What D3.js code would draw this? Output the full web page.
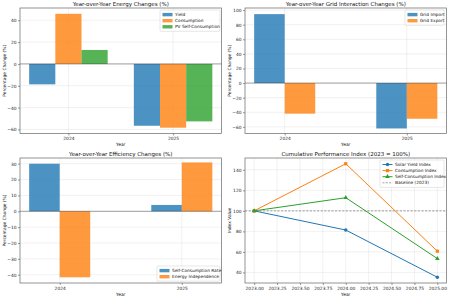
<!DOCTYPE html>
<html>
<head>
<meta charset="utf-8">
<script src="https://cdn.jsdelivr.net/npm/d3@7"></script>
<style>
  body { margin: 0; background: #fff; }
  svg { font-family: "DejaVu Sans", sans-serif; display: block; }
  .tick text { fill: #222; }
</style>
</head>
<body>
<div id="chart"></div>
<script>
// categories
const years = ["2024", "2025"];
const indexYears = [2023, 2024, 2025];

// energy changes (%)
const yieldChange = [-18.7, -56.6];
const consumptionChange = [45.9, -58.4];
const pvSelfChange = [12.8, -52.6];

// grid changes (%)
const gridImportChange = [94.5, -62.2];
const gridExportChange = [-41.9, -48.9];

// efficiency changes (%)
const selfRateChange = [30.0, 4.0];
const independenceChange = [-41.6, 30.8];

// cumulative index
const solarIndex = [100, 81.3, 35.3];
const consumptionIndex = [100, 145.9, 60.7];
const selfConsIndex = [100, 112.8, 53.5];

const yTicks1 = [-60, -40, -20, 0, 20, 40];
const yTicks2 = [-60, -40, -20, 0, 20, 40, 60, 80, 100];
const yTicks3 = [-40, -30, -20, -10, 0, 10, 20, 30];
const yTicks4 = [40, 60, 80, 100, 120, 140];
const xTicks4 = [2023, 2023.25, 2023.5, 2023.75, 2024, 2024.25, 2024.5, 2024.75, 2025];

const blue = "#1f77b4", orange = "#ff7f0e", green = "#2ca02c";

const W = 450, H = 298;
const svg = d3.select("#chart").append("svg").attr("width", W).attr("height", H);

const fmtTick = (d) => (d < 0 ? "\u2212" + Math.abs(d) : "" + d);

function makePanel(x0, y0, w, h, xDomain, yDomain, title, ylabel) {
  const g = svg.append("g").attr("transform", `translate(${x0},${y0})`);
  const x = d3.scaleLinear().domain(xDomain).range([0, w]);
  const y = d3.scaleLinear().domain(yDomain).range([h, 0]);
  g.append("text")
    .attr("x", w / 2).attr("y", -2.5)
    .attr("text-anchor", "middle")
    .attr("font-size", 5.5).attr("fill", "#111")
    .text(title);
  g.append("text")
    .attr("transform", `translate(${-14.5},${h / 2}) rotate(-90)`)
    .attr("text-anchor", "middle")
    .attr("font-size", 4.4).attr("fill", "#111")
    .text(ylabel);
  g.append("text")
    .attr("x", w / 2).attr("y", h + 12.5)
    .attr("text-anchor", "middle")
    .attr("font-size", 4.4).attr("fill", "#111")
    .text("Year");
  return { g, x, y, w, h };
}

function drawAxes(p, xTickVals, xFmt, yTickVals) {
  const { g, x, y, w, h } = p;
  // grid
  g.append("g").selectAll("line").data(yTickVals).join("line")
    .attr("x1", 0).attr("x2", w)
    .attr("y1", (d) => y(d)).attr("y2", (d) => y(d))
    .attr("stroke", "#b0b0b0").attr("stroke-opacity", 0.3).attr("stroke-width", 0.6);
  g.append("g").selectAll("line").data(xTickVals).join("line")
    .attr("y1", 0).attr("y2", h)
    .attr("x1", (d) => x(d)).attr("x2", (d) => x(d))
    .attr("stroke", "#b0b0b0").attr("stroke-opacity", 0.3).attr("stroke-width", 0.6);

  const xAxis = d3.axisBottom(x).tickValues(xTickVals).tickFormat(xFmt).tickSize(2).tickPadding(1.5);
  const yAxis = d3.axisLeft(y).tickValues(yTickVals).tickFormat(fmtTick).tickSize(2).tickPadding(1.5);
  const ga = g.append("g").attr("transform", `translate(0,${h})`).call(xAxis);
  const gy = g.append("g").call(yAxis);
  [ga, gy].forEach((a) => {
    a.select(".domain").remove();
    a.selectAll(".tick line").attr("stroke", "#333").attr("stroke-width", 0.5);
    a.selectAll(".tick text").attr("font-size", 4.4).attr("font-family", "DejaVu Sans");
  });
}

function drawFrame(p) {
  p.g.append("rect").attr("width", p.w).attr("height", p.h)
    .attr("fill", "none").attr("stroke", "#666").attr("stroke-width", 0.7);
}

function drawBars(p, series, width) {
  const n = series.length;
  series.forEach((s, i) => {
    const off = (i - (n - 1) / 2) * width;
    p.g.append("g").selectAll("rect").data(s.values).join("rect")
      .attr("x", (d, j) => p.x(j + off - width / 2))
      .attr("width", p.x(width) - p.x(0))
      .attr("y", (d) => p.y(Math.max(0, d)))
      .attr("height", (d) => Math.abs(p.y(d) - p.y(0)))
      .attr("fill", s.color).attr("fill-opacity", 0.8);
  });
  p.g.append("line")
    .attr("x1", 0).attr("x2", p.w)
    .attr("y1", p.y(0)).attr("y2", p.y(0))
    .attr("stroke", "#000").attr("stroke-opacity", 0.35).attr("stroke-width", 1);
}

function drawLegend(p, items, x0, y0, boxW, lines) {
  const lh = 6.1;
  const lg = p.g.append("g").attr("transform", `translate(${x0},${y0})`);
  lg.append("rect").attr("width", boxW).attr("height", items.length * lh + 3)
    .attr("rx", 1).attr("fill", "#fff").attr("fill-opacity", 0.8)
    .attr("stroke", "#ccc").attr("stroke-width", 0.5);
  items.forEach((it, i) => {
    const cy = 4.5 + i * lh;
    if (lines) {
      lg.append("line").attr("x1", 2.5).attr("x2", 12.5).attr("y1", cy).attr("y2", cy)
        .attr("stroke", it.color).attr("stroke-width", it.dash ? 0.8 : 1)
        .attr("stroke-dasharray", it.dash ? "2,1.3" : null)
        .attr("stroke-opacity", it.dash ? 0.7 : 1);
      if (it.marker) drawMarker(lg, it.marker, 7.5, cy, it.color);
    } else {
      lg.append("rect").attr("x", 2.5).attr("y", cy - 1.6).attr("width", 10).attr("height", 3.4)
        .attr("fill", it.color).attr("fill-opacity", 0.8);
    }
    lg.append("text").attr("x", 15).attr("y", cy + 1.5)
      .attr("font-size", 4.3).attr("fill", "#111").text(it.label);
  });
}

function drawMarker(g, type, cx, cy, color) {
  if (type === "circle") {
    g.append("circle").attr("cx", cx).attr("cy", cy).attr("r", 1.7).attr("fill", color);
  } else if (type === "square") {
    g.append("rect").attr("x", cx - 1.6).attr("y", cy - 1.6).attr("width", 3.2).attr("height", 3.2).attr("fill", color);
  } else {
    g.append("path").attr("d", d3.symbol(d3.symbolTriangle, 9)()).attr("transform", `translate(${cx},${cy})`).attr("fill", color);
  }
}

const yearFmt = (d) => years[d];

// panel 1
const p1 = makePanel(20, 8, 201.5, 125.5, [-0.4625, 1.4625], [-63.7, 51.2],
  "Year-over-Year Energy Changes (%)", "Percentage Change (%)");
drawAxes(p1, [0, 1], yearFmt, yTicks1);
drawBars(p1, [
  { values: yieldChange, color: blue },
  { values: consumptionChange, color: orange },
  { values: pvSelfChange, color: green },
], 0.25);
drawFrame(p1);
drawLegend(p1, [
  { label: "Yield", color: blue },
  { label: "Consumption", color: orange },
  { label: "PV Self-Consumption", color: green },
], 140, 2, 60, false);

// panel 2
const p2 = makePanel(245, 8, 201.5, 125.5, [-0.325, 1.325], [-69.1, 102.9],
  "Year-over-Year Grid Interaction Changes (%)", "Percentage Change (%)");
drawAxes(p2, [0, 1], yearFmt, yTicks2);
drawBars(p2, [
  { values: gridImportChange, color: blue },
  { values: gridExportChange, color: orange },
], 0.25);
drawFrame(p2);
drawLegend(p2, [
  { label: "Grid Import", color: blue },
  { label: "Grid Export", color: orange },
], 160, 2, 39, false);

// panel 3
const p3 = makePanel(20, 158, 201.5, 125, [-0.325, 1.325], [-45.2, 33.6],
  "Year-over-Year Efficiency Changes (%)", "Percentage Change (%)");
drawAxes(p3, [0, 1], yearFmt, yTicks3);
drawBars(p3, [
  { values: selfRateChange, color: blue },
  { values: independenceChange, color: orange },
], 0.25);
drawFrame(p3);
drawLegend(p3, [
  { label: "Self-Consumption Rate", color: blue },
  { label: "Energy Independence", color: orange },
], 137, 108, 63, false);

// panel 4
const p4 = makePanel(245, 158, 201.5, 125, [2022.9, 2025.1], [29.7, 151.5],
  "Cumulative Performance Index (2023 = 100%)", "Index Value");
drawAxes(p4, xTicks4, (d) => d.toFixed(2), yTicks4);
p4.g.append("line")
  .attr("x1", 0).attr("x2", p4.w).attr("y1", p4.y(100)).attr("y2", p4.y(100))
  .attr("stroke", "#555").attr("stroke-opacity", 0.8).attr("stroke-width", 0.7)
  .attr("stroke-dasharray", "2.2,1.4");
const idxSeries = [
  { values: solarIndex, color: blue, marker: "circle", label: "Solar Yield Index" },
  { values: consumptionIndex, color: orange, marker: "square", label: "Consumption Index" },
  { values: selfConsIndex, color: green, marker: "triangle", label: "Self-Consumption Index" },
];
const line = d3.line().x((d, i) => p4.x(indexYears[i])).y((d) => p4.y(d));
idxSeries.forEach((s) => {
  p4.g.append("path").datum(s.values).attr("d", line)
    .attr("fill", "none").attr("stroke", s.color).attr("stroke-width", 1);
  s.values.forEach((v, i) => drawMarker(p4.g, s.marker, p4.x(indexYears[i]), p4.y(v), s.color));
});
drawFrame(p4);
drawLegend(p4, [
  ...idxSeries.map((s) => ({ label: s.label, color: s.color, marker: s.marker })),
  { label: "Baseline (2023)", color: "#555", dash: true },
], 135, 2, 64, true);
</script>
</body>
</html>
